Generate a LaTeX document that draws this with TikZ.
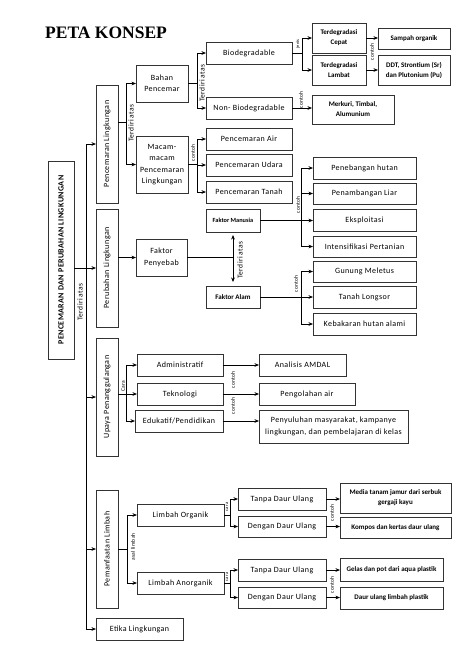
\documentclass[tikz,border=0pt]{standalone}
\usepackage{fontspec}
\usepackage{graphicx}
\setmainfont[LetterSpace=5]{Carlito}
\newfontfamily\titlefont{Liberation Serif}
\newfontfamily\tightfont{Carlito}
\usetikzlibrary{arrows.meta}
\newcommand\mybox[7]{\node[#1, minimum width={#5-#3}, minimum height={#6-#4}] (#2) at ({(#3+#5)/2},{(#4+#6)/2}) {#7};}
\begin{document}
\begin{tikzpicture}[x=1pt,y=-1pt,
  box/.style={draw=black!80, line width=0.7pt, fill=white, inner sep=0pt, outer sep=0pt, align=center, font=\fontsize{8}{11.3}\selectfont},
  sbox/.style={box, font=\tightfont\bfseries\fontsize{7}{10}\selectfont},
  mainbox/.style={box, font=\bfseries\fontsize{8}{10}\selectfont},
  line/.style={draw=black, line width=0.6pt},
  arr/.style={line, -{Stealth[length=4.5pt,width=3.6pt]}},
  dblarr/.style={line, {Stealth[length=4.5pt,width=3.6pt]}-{Stealth[length=4.5pt,width=3.6pt]}},
  lbl/.style={font=\fontsize{7.5}{9}\selectfont, inner sep=0pt, rotate=90},
  tiny/.style={font=\fontsize{5.5}{7}\selectfont, inner sep=0pt, rotate=90},
  tinier/.style={font=\fontsize{4.5}{6}\selectfont, inner sep=0pt, rotate=90}]
\useasboundingbox (0,0) rectangle (474,670);

\node[font=\titlefont\bfseries\fontsize{17.5}{20}\selectfont, anchor=west, inner sep=0pt] (title) at (45,33) {PETA KONSEP};

% main and level 1
\mybox{mainbox}{main}{48}{161}{74}{359}{\rotatebox{90}{PENCEMARAN DAN PERUBAHAN LINGKUNGAN}}
\mybox{box}{pl}{96}{85}{118}{203}{\rotatebox{90}{Pencemaran Lingkungan}}
\mybox{box}{pb}{96}{209}{118}{327}{\rotatebox{90}{Perubahan Lingkungan}}
\mybox{box}{up}{96}{338}{118}{456}{\rotatebox{90}{Upaya Penanggulangan}}
\mybox{box}{pm}{96}{490}{118}{608}{\rotatebox{90}{Pemanfaatan Limbah}}
\mybox{box}{et}{96}{618}{183}{640}{Etika Lingkungan}

% pencemaran lingkungan
\mybox{box}{bahan}{136}{65}{188}{102}{Bahan\\Pencemar}
\mybox{box}{macam}{136}{136}{188}{193}{Macam-\\macam\\Pencemaran\\Lingkungan}
\mybox{box}{bio}{206}{42}{292}{64}{Biodegradable}
\mybox{box}{nonbio}{206}{97}{292}{119}{Non- Biodegradable}
\mybox{sbox}{cepat}{312}{23}{366}{53}{Terdegradasi\\Cepat}
\mybox{sbox}{lambat}{312}{55}{366}{85}{Terdegradasi\\Lambat}
\mybox{sbox}{sampah}{378}{28}{450}{49}{Sampah organik}
\mybox{sbox}{ddt}{378}{55}{450}{85}{DDT, Strontium (Sr)\\dan Plutonium (Pu)}
\mybox{sbox}{merkuri}{312}{95}{394}{124}{Merkuri, Timbal,\\Alumunium}
\mybox{box}{air}{206}{128}{292}{150}{Pencemaran Air}
\mybox{box}{udara}{206}{154}{292}{176}{Pencemaran Udara}
\mybox{box}{tanah}{206}{181}{292}{203}{Pencemaran Tanah}

% perubahan lingkungan
\mybox{box}{fp}{136}{239}{187}{276}{Faktor\\Penyebab}
\mybox{sbox, font=\tightfont\bfseries\fontsize{6.3}{8}\selectfont}{fm}{206}{209}{260}{232}{Faktor Manusia}
\mybox{sbox}{fa}{206}{286}{260}{308}{Faktor Alam}
\mybox{box}{peneb}{313}{157}{416}{179}{Penebangan hutan}
\mybox{box}{penamb}{313}{183}{416}{204}{Penambangan Liar}
\mybox{box}{eks}{313}{209}{416}{231}{Eksploitasi}
\mybox{box}{intens}{313}{236}{416}{257}{Intensifikasi Pertanian}
\mybox{box}{gunung}{313}{261}{416}{282}{Gunung Meletus}
\mybox{box}{tanahl}{313}{286}{416}{308}{Tanah Longsor}
\mybox{box}{keb}{313}{313}{416}{335}{Kebakaran hutan alami}

% upaya
\mybox{box}{adm}{137}{354}{223}{376}{Administratif}
\mybox{box}{tek}{137}{383}{223}{405}{Teknologi}
\mybox{box}{edu}{135}{410}{223}{432}{Edukatif/Pendidikan}
\mybox{box}{amdal}{259}{354}{346}{376}{Analisis AMDAL}
\mybox{box}{olah}{259}{383}{355}{405}{Pengolahan air}
\mybox{box}{peny}{259}{410}{408}{443}{Penyuluhan masyarakat, kampanye\\lingkungan, dan pembelajaran di kelas}

% pemanfaatan
\mybox{box}{org}{137}{504}{224}{526}{Limbah Organik}
\mybox{box}{anorg}{137}{572}{224}{594}{Limbah Anorganik}
\mybox{box}{tpo}{238}{488}{326}{510}{Tanpa Daur Ulang}
\mybox{box}{dgo}{238}{516}{326}{537}{Dengan Daur Ulang}
\mybox{box}{tpa}{238}{559}{326}{581}{Tanpa Daur Ulang}
\mybox{box}{dga}{238}{587}{326}{608}{Dengan Daur Ulang}
\mybox{sbox}{media}{340}{483}{451}{513}{Media tanam jamur dari serbuk\\gergaji kayu}
\mybox{sbox}{kompos}{340}{517}{451}{538}{Kompos dan kertas daur ulang}
\mybox{sbox}{gelas}{340}{558}{443}{581}{Gelas dan pot dari aqua plastik}
\mybox{sbox}{daur}{340}{587}{443}{609}{Daur ulang limbah plastik}

% ---------- connectors ----------
% trunk
\coordinate (tr) at (86,0);
\draw[line] (tr |- pl.west) -- (tr |- et.west);
\draw[arr] (main.east |- pb.west) -- (pb.west);
\draw[arr] (tr |- pl.west) -- (pl.west);
\draw[arr] (tr |- up.west) -- (up.west);
\draw[arr] (tr |- pm.west) -- (pm.west);
\draw[arr] (tr |- et.west) -- (et.west);

% pencemaran lingkungan
\coordinate (jpl) at (126,122);
\draw[line] (pl.east |- jpl) -- (jpl);
\draw[line] (jpl |- bahan.west) -- (jpl |- macam.west);
\draw[arr] (jpl |- bahan.west) -- (bahan.west);
\draw[arr] (jpl |- macam.west) -- (macam.west);

\coordinate (jb) at (197,0);
\draw[line] (bahan.east) -- (jb |- bahan.east);
\draw[line] (jb |- bio.west) -- (jb |- nonbio.west);
\draw[arr] (jb |- bio.west) -- (bio.west);
\draw[arr] (jb |- nonbio.west) -- (nonbio.west);

\coordinate (jbio) at (302,0);
\draw[line] (bio.east) -- (jbio |- bio.east);
\draw[line] (jbio |- cepat.west) -- (jbio |- lambat.west);
\draw[arr] (jbio |- cepat.west) -- (cepat.west);
\draw[arr] (jbio |- lambat.west) -- (lambat.west);
\draw[arr] (cepat.east) -- (cepat.east -| sampah.west);
\draw[arr] (lambat.east) -- (lambat.east -| ddt.west);
\draw[arr] (nonbio.east) -- (nonbio.east -| merkuri.west);

\coordinate (jm) at (197,0);
\draw[line] (macam.east) -- (jm |- macam.east);
\draw[line] (jm |- air.west) -- (jm |- tanah.west);
\draw[arr] (jm |- air.west) -- (air.west);
\draw[arr] (jm |- udara.west) -- (udara.west);
\draw[arr] (jm |- tanah.west) -- (tanah.west);

% perubahan lingkungan
\draw[arr] (pb.east |- fp.west) -- (fp.west);
\coordinate (jfp) at (fm.south |- fp.east);
\draw[line] (fp.east) -- (jfp);
\draw[dblarr] ([yshift=-3pt]fm.south) -- ([yshift=4pt]fa.north);

\coordinate (jma) at (301,0);
\draw[arr] (fm.east) -- (fm.east -| eks.west);
\draw[line] (jma |- peneb.west) -- (jma |- intens.west);
\draw[arr] (jma |- peneb.west) -- (peneb.west);
\draw[arr] (jma |- penamb.west) -- (penamb.west);
\draw[arr] (jma |- intens.west) -- (intens.west);
\draw[arr] (fa.east) -- (fa.east -| tanahl.west);
\draw[line] (jma |- gunung.west) -- (jma |- keb.west);
\draw[arr] (jma |- gunung.west) -- (gunung.west);
\draw[arr] (jma |- keb.west) -- (keb.west);

% upaya
\coordinate (ju) at (126,0);
\draw[arr] (up.east |- tek.west) -- (tek.west);
\draw[line] (ju |- adm.west) -- (ju |- edu.west);
\draw[arr] (ju |- adm.west) -- (adm.west);
\draw[arr] (ju |- edu.west) -- (edu.west);
\draw[arr] (adm.east) -- (adm.east -| amdal.west);
\draw[arr] (tek.east) -- (tek.east -| olah.west);
\draw[arr] (edu.east) -- (edu.east -| peny.west);

% pemanfaatan
\coordinate (jp) at (127,0);
\draw[line] (pm.east) -- (jp |- pm.east);
\draw[line] (jp |- org.west) -- (jp |- anorg.west);
\draw[arr] (jp |- org.west) -- (org.west);
\draw[arr] (jp |- anorg.west) -- (anorg.west);
\coordinate (jo) at (230,0);
\draw[line] (org.east) -- (jo |- org.east);
\draw[line] (jo |- tpo.west) -- (jo |- dgo.west);
\draw[arr] (jo |- tpo.west) -- (tpo.west);
\draw[arr] (jo |- dgo.west) -- (dgo.west);
\draw[line] (anorg.east) -- (jo |- anorg.east);
\draw[line] (jo |- tpa.west) -- (jo |- dga.west);
\draw[arr] (jo |- tpa.west) -- (tpa.west);
\draw[arr] (jo |- dga.west) -- (dga.west);
\draw[arr] (tpo.east) -- (tpo.east -| media.west);
\draw[arr] (dgo.east) -- (dgo.east -| kompos.west);
\draw[arr] (tpa.east) -- (tpa.east -| gelas.west);
\draw[arr] (dga.east) -- (dga.east -| daur.west);

% ---------- labels ----------
\node[lbl] (l1) at (80,302) {Terdiri atas};
\node[lbl] (l2) at (131,123) {Terdiri atas};
\node[lbl] (l3) at (202,83) {Terdiri atas};
\node[lbl] (l4) at (240,260) {Terdiri atas};
\node[tinier] (l5) at (298,44) {jenis};
\node[tiny] (l6) at (372,52) {contoh};
\node[tiny] (l7) at (301,100) {contoh};
\node[tiny] (l8) at (193,153) {contoh};
\node[tiny] (l9) at (298,205) {contoh};
\node[tiny] (l10) at (296,284) {contoh};
\node[tiny] (l11) at (123,386) {Cara};
\node[tiny] (l12) at (233,380) {contoh};
\node[tiny] (l13) at (233,406) {contoh};
\node[tiny] (l14) at (133,547) {asal limbah};
\node[tinier] (l15) at (227,507) {cara};
\node[tinier] (l16) at (227,577) {cara};
\node[tiny] (l17) at (332,513) {contoh};
\node[tiny] (l18) at (332,585) {contoh};
\end{tikzpicture}
\end{document}
